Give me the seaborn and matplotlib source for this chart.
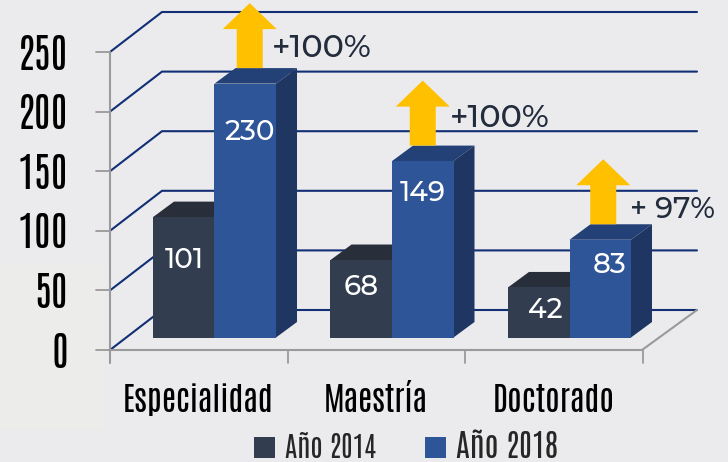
import matplotlib
matplotlib.use('Agg')
import matplotlib.pyplot as plt
from matplotlib.patches import Polygon, Rectangle
import pandas as pd
import seaborn as sns

# values
categories = ['Especialidad', 'Maestría', 'Doctorado']
years = ['Año 2014', 'Año 2018']
heights_2014 = [101, 65, 42]
heights_2018 = [213, 148, 82]
labels_2014 = ['101', '68', '42']
labels_2018 = ['230', '149', '83']
growth = ['+100%', '+100%', '+ 97%']
y_ticks = [0, 50, 100, 150, 200, 250]

# colours
bg = '#EBEBED'
c_2014 = ['#323D4F', '#282F3B']
c_2018 = ['#2E5597', '#234077', '#1F3663']
grid_c = '#122E75'
axis_c = '#9A9A9A'
arrow_c = '#FFC000'
dark = '#222C3C'

# pixel scales of the picture
PX_PER_CAT = 177.5
PX_PER_VAL = 1.192
X0 = 214.5
Y0 = 337.5
def dx(px):
    return px / PX_PER_CAT
def dy(px):
    return px / PX_PER_VAL
def X(px):
    return (px - X0) / PX_PER_CAT
def Y(py):
    return (Y0 - py) / PX_PER_VAL

narrow = ['Antonio', 'Oswald', 'DejaVu Sans']
wide = ['Montserrat Alternates', 'DejaVu Sans']

sns.set_theme(style='white')
fig = plt.figure(figsize=(7.28, 4.62), dpi=100, facecolor=bg)
ax = fig.add_axes([0, 0, 1, 1], facecolor=bg)

df = pd.DataFrame({
    'categoria': categories * 2,
    'anio': [years[0]] * 3 + [years[1]] * 3,
    'valor': heights_2014 + heights_2018,
})
sns.barplot(data=df, x='categoria', y='valor', hue='anio', order=categories, hue_order=years,
            palette=[c_2014[0], c_2018[0]], saturation=1, width=0.693, gap=0, errorbar=None,
            linewidth=0, zorder=3, ax=ax)
handles, leg_labels = ax.get_legend_handles_labels()
ax.get_legend().remove()

ax.set_xlim(X(0), X(728))
ax.set_ylim(Y(462), Y(0))
ax.set_axis_off()

# paler patch of the backdrop, lower left
ax.add_patch(Rectangle((X(0), Y(430)), dx(105), dy(165), fc='#ECECEB', ec='none', zorder=0))

# walls and gridlines
for t in y_ticks:
    front = Y(350) + t
    ax.plot([X(110), X(162), X(697)], [front, front + dy(40), front + dy(40)],
            color=grid_c, lw=1.5, zorder=1, solid_joinstyle='miter')
    ax.plot([X(96), X(110)], [front, front], color=axis_c, lw=1.3, zorder=1.5)
    ax.text(X(68), front, str(t), ha='right', va='center_baseline', family=narrow, fontsize=29, color='black')
ax.plot([X(110), X(110)], [Y(350) + 250, Y(363)], color=axis_c, lw=1.5, zorder=1.5)
ax.plot([X(110), X(642), X(697)], [Y(350), Y(350), Y(310)], color=axis_c, lw=1.5, zorder=1.5)
for i in range(4):
    x_tick = X(110) + i
    ax.plot([x_tick, x_tick], [Y(350), Y(363)], color=axis_c, lw=1.3, zorder=1.5)

# depth faces of the bars
depth_x, depth_y = dx(21), dy(15.5)
for container, colors, z in zip(ax.containers, [c_2014, c_2018], [2.4, 2.7]):
    for bar in container:
        x0, w, h = bar.get_x(), bar.get_width(), bar.get_height()
        ax.add_patch(Polygon([(x0, h), (x0 + w, h), (x0 + w + depth_x, h + depth_y), (x0 + depth_x, h + depth_y)],
                             closed=True, fc=colors[1], ec='none', zorder=z))
        side = colors[-1]
        ax.add_patch(Polygon([(x0 + w, 0), (x0 + w + depth_x, depth_y), (x0 + w + depth_x, h + depth_y), (x0 + w, h)],
                             closed=True, fc=side, ec='none', zorder=z))

# value labels, placed under the top of each bar
drop_2014 = [40, 24, 20]
drop_2018 = [46, 29, 23]
shift_2014 = [1, 0, 7]
shift_2018 = [5, 0, 9.5]
for container, texts, drops, shifts in zip(ax.containers, [labels_2014, labels_2018], [drop_2014, drop_2018], [shift_2014, shift_2018]):
    for bar, txt, d, s in zip(container, texts, drops, shifts):
        ax.text(bar.get_x() + bar.get_width() / 2 + dx(s), bar.get_height() - dy(d), txt,
                ha='center', va='center_baseline', family=wide, fontweight=500, fontsize=20, color='white', zorder=5)

# growth arrows on the 2018 bars
arrow_shift = [4.5, 0, 3]
text_x = [272, 450, 630]
text_y = [45, 115, 207]
text_size = [23, 23, 21]
for bar, s, txt, tx, ty, fs in zip(ax.containers[1], arrow_shift, growth, text_x, text_y, text_size):
    cx = bar.get_x() + bar.get_width() / 2 + dx(s)
    base = bar.get_height() + depth_y
    pts = [(cx - dx(13), base), (cx + dx(13), base), (cx + dx(13), base + dy(39)), (cx + dx(27), base + dy(39)),
           (cx, base + dy(65)), (cx - dx(27), base + dy(39)), (cx - dx(13), base + dy(39))]
    ax.add_patch(Polygon(pts, closed=True, fc=arrow_c, ec='none', zorder=4))
    ax.text(X(tx), Y(ty), txt, ha='left', va='center_baseline', family=wide, fontweight=500, fontsize=fs, color=dark, zorder=5)

# category labels
for i, cat in enumerate(categories):
    ax.text(i - dx(16), Y(398), cat, ha='center', va='center_baseline', family=narrow, fontsize=23.5, color='black')

# legend
leg = ax.legend(handles, leg_labels, ncol=2, loc='lower left', bbox_to_anchor=(254 / 728, 0.0), frameon=False,
                handlelength=0.72, handleheight=0.72, handletextpad=0.34, columnspacing=1.68, borderpad=0, borderaxespad=0,
                prop={'family': narrow, 'size': 21})
leg.get_texts()[0].set_fontsize(20)
leg.get_texts()[1].set_fontsize(22.5)

fig.savefig('out.png', dpi=100, facecolor=bg)
